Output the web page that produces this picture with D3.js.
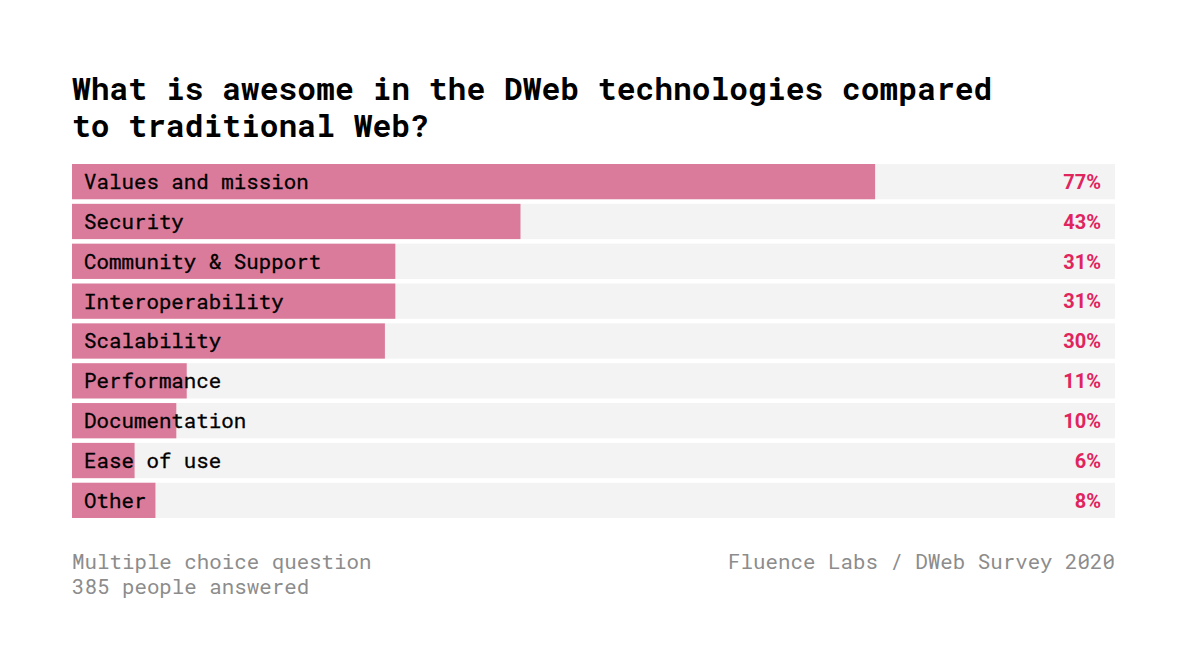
<!DOCTYPE html>
<html>
<head>
<meta charset="utf-8">
<script src="https://cdn.jsdelivr.net/npm/d3@7"></script>
<style>
  html, body { margin: 0; padding: 0; background: #ffffff; }
  svg { display: block; }
</style>
</head>
<body>
<script>
const categories = ["Values and mission", "Security", "Community & Support", "Interoperability",
  "Scalability", "Performance", "Documentation", "Ease of use", "Other"];
const values = [77, 43, 31, 31, 30, 11, 10, 6, 8];
const titleLines = ["What is awesome in the DWeb technologies compared", "to traditional Web?"];
const footLeft = ["Multiple choice question", "385 people answered"];
const footRight = "Fluence Labs / DWeb Survey 2020";

(function () {
const W = 1185, H = 672;
const mono = "'Roboto Mono', 'DejaVu Sans Mono', monospace";
const sans = "Roboto, 'Noto Sans', sans-serif";

const svg = d3.select("body").append("svg").attr("width", W).attr("height", H);

const mLeft = 72, mRight = 1115, mTop = 164, mBottom = 518;

const x = d3.scaleLinear().domain([0, 100]).range([mLeft, mRight]);
const y = d3.scaleBand().domain(categories).range([mTop, mBottom]).paddingInner(0.115).paddingOuter(0);

svg.append("g").selectAll("text").data(titleLines).join("text")
  .attr("x", mLeft).attr("y", (d, i) => 99.5 + i * 37)
  .attr("font-family", mono).attr("font-weight", 700).attr("font-size", 31.3)
  .attr("fill", "#000").text(d => d);

const rows = svg.append("g").selectAll("g").data(categories).join("g");

rows.append("rect")
  .attr("x", x(0)).attr("y", d => y(d))
  .attr("width", x(100) - x(0)).attr("height", y.bandwidth())
  .attr("fill", "#f3f3f3");

rows.append("rect")
  .attr("x", x(0)).attr("y", d => y(d))
  .attr("width", (d, i) => x(values[i]) - x(0)).attr("height", y.bandwidth())
  .attr("fill", "#db7b9b");

rows.append("text")
  .attr("x", x(0) + 12).attr("y", d => y(d) + y.bandwidth() / 2)
  .attr("dy", "0.36em")
  .attr("font-family", mono).attr("font-size", 20.8).attr("font-weight", 400)
  .attr("stroke", "#000").attr("stroke-width", 0.3)
  .attr("fill", "#000").text(d => d);

rows.append("text")
  .attr("x", x(100) - 14).attr("y", d => y(d) + y.bandwidth() / 2)
  .attr("dy", "0.36em").attr("text-anchor", "end")
  .attr("font-family", sans).attr("font-size", 20).attr("font-weight", 700)
  .attr("fill", "#e0245e").text((d, i) => values[i] + "%");

svg.append("g").selectAll("text").data(footLeft).join("text")
  .attr("x", mLeft).attr("y", (d, i) => 568.5 + i * 25.5)
  .attr("font-family", mono).attr("font-size", 20.8)
  .attr("fill", "#8c8c8c").text(d => d);

svg.append("text")
  .attr("x", mRight).attr("y", 568.5).attr("text-anchor", "end")
  .attr("font-family", mono).attr("font-size", 20.8)
  .attr("fill", "#8c8c8c").text(footRight);
})();
</script>
</body>
</html>
